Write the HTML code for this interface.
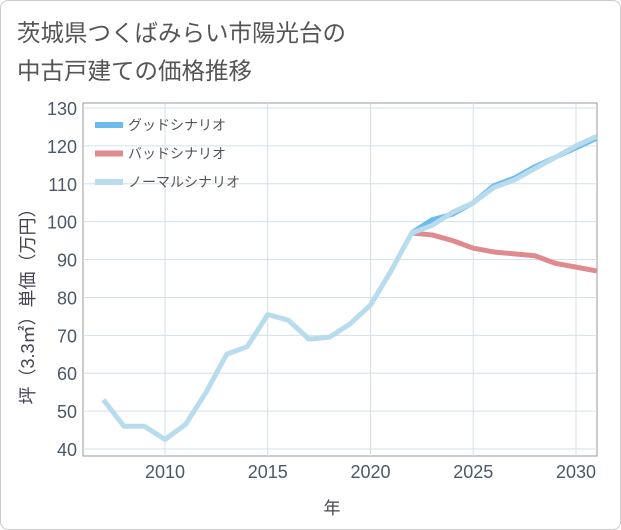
<!DOCTYPE html>
<html><head><meta charset="utf-8"><style>
body{margin:0;background:#fff;}
.card{position:absolute;left:0;top:0;width:619px;height:528px;border:1px solid #ccc;border-radius:8px;background:#fff;}
text{font-family:"Liberation Sans","Noto Sans CJK JP",sans-serif;}
</style></head><body>
<div class="card"></div>
<svg id="c" width="621" height="530" style="position:absolute;left:0;top:0">
<defs><clipPath id="pc"><rect x="83" y="103" width="514" height="353"/></clipPath></defs>
<text x="17" y="41" font-size="23.5" fill="#555">茨城県つくばみらい市陽光台の</text>
<text x="17" y="79" font-size="23.5" fill="#555">中古戸建ての価格推移</text>
<g id="grid"></g><g id="series" clip-path="url(#pc)"></g><g id="axes"></g>
<text x="332" y="514" font-size="17" fill="#445" text-anchor="middle">年</text>
<text transform="translate(34,302) rotate(-90)" font-size="18" fill="#445" text-anchor="middle">坪（3.3㎡）単価（万円）</text>
<g id="legend"></g>
</svg>
<script>
const years=[2007,2008,2009,2010,2011,2012,2013,2014,2015,2016,2017,2018,2019,2020,2021,2022,2023,2024,2025,2026,2027,2028,2029,2030,2031];
const normal=[53,46,46,42.5,46.5,55,65,67,75.5,74,69,69.5,73,78,87,97,99,102.5,105,109,111,114,117,120,122.5];
const goodYears=[2022,2023,2024,2025,2026,2027,2028,2029,2030,2031];
const good=[97,100.5,102,105,109.5,111.5,114.5,117,119.5,122];
const bad=[97,96.5,95,93,92,91.5,91,89,88,87];
const yTicks=[40,50,60,70,80,90,100,110,120,130];
const xTicks=[2010,2015,2020,2025,2030];
const L=83,R=597,T=103,B=456;
const x=v=>165+(v-2010)*20.55;
const y=v=>449-(v-40)*(341/90);
const ns="http://www.w3.org/2000/svg";
function mk(p,tag,a){const e=document.createElementNS(ns,tag);for(const k in a)e.setAttribute(k,a[k]);p.appendChild(e);return e;}
const g=document.getElementById('grid'),ax=document.getElementById('axes'),s=document.getElementById('series'),lg=document.getElementById('legend');
mk(g,'rect',{x:L,y:T,width:R-L,height:B-T,fill:'#fff',stroke:'#999'});
yTicks.forEach(t=>{
 const l=mk(g,'line',{x1:L,x2:R,y1:y(t),y2:y(t),stroke:'#d3e0ea'});
 
 
 const tx=mk(ax,'text',{x:L-6,y:y(t)+7,'font-size':18,fill:'#4a5868','text-anchor':'end'});tx.textContent=t;
 
 
});
xTicks.forEach(t=>{
 const l=mk(g,'line',{x1:x(t),x2:x(t),y1:T,y2:B,stroke:'#d3e0ea'});
 
 
 const tx=mk(ax,'text',{x:x(t),y:B+22,'font-size':18,fill:'#4a5868','text-anchor':'middle'});tx.textContent=t;
 
 
});
function line(xs,vs,col,w,name){
 const p=mk(s,'polyline',{points:xs.map((yr,i)=>x(yr)+','+y(vs[i])).join(' '),fill:'none',stroke:col,'stroke-width':w,'stroke-linejoin':'round'});
 
 
}
line(goodYears,bad,'#df8a8e',5,'bad-scenario-line');
line(goodYears,good,'#6bbbef',5,'good-scenario-line');
line(years,normal,'#b8dcee',5,'normal-scenario-line');
[['グッドシナリオ','#6bbbef'],['バッドシナリオ','#df8a8e'],['ノーマルシナリオ','#b8dcee']].forEach((d,i)=>{
 const yy=125+i*28.5;
 const r=mk(lg,'rect',{x:95,y:yy-3,width:28,height:6,fill:d[1]});
 
 
 const t=mk(lg,'text',{x:128,y:yy+5,'font-size':14,fill:'#555'});t.textContent=d[0];
 
 
});
</script>
</body></html>
